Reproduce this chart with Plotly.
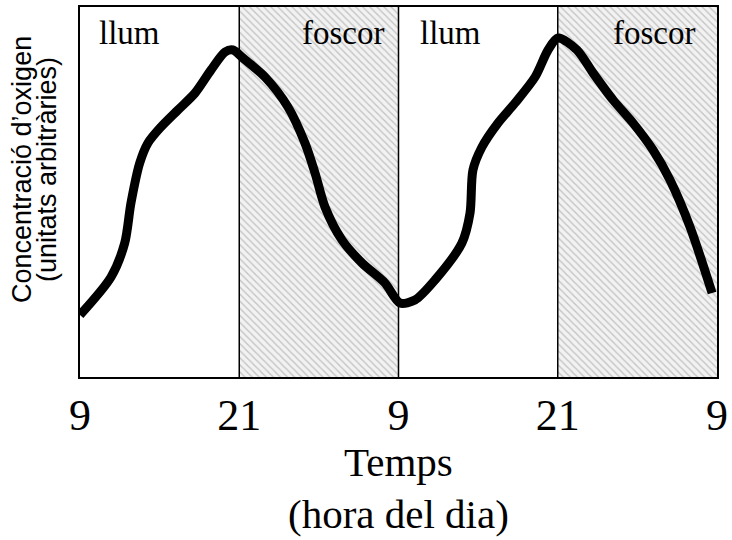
import plotly.graph_objects as go

# time in hours since 9:00 of the first day
hours = [0, 2.34, 3.37, 3.84, 4.50, 5.12, 6.10, 7.38, 8.67, 9.87, 10.93, 11.53,
         12.28, 13.94, 15.67, 16.95, 17.71, 18.46, 19.74, 21.25, 22.98, 24.11,
         25.24, 26.75, 28.78, 29.39, 29.61, 30.29, 31.50, 32.78, 34.29, 35.27, 36.02,
         37.45, 38.66, 40.17, 41.67, 43.18, 44.46, 45.97, 47.63]
oxygen = [62, 100, 134, 174, 214, 234, 250, 267, 284, 307, 325, 327,
          319, 300, 270, 234, 204, 170, 137, 114, 94, 74,
          77, 97, 134, 164, 207, 230, 254, 274, 300, 327, 339,
          327, 304, 277, 254, 227, 197, 150, 84]

tick_vals = [0, 12, 24, 36, 48]
tick_text = ["9", "21", "9", "21", "9"]
dark_periods = [(12, 24), (36, 48)]
boundaries = [12, 24, 36]
phase_labels = ["llum", "foscor", "llum", "foscor"]
label_hours = [1.28, 23.06, 25.47, 46.5]
x_title_lines = ["Temps", "(hora del dia)"]
y_title_lines = ["Concentració d’oxigen", "(unitats arbitràries)"]

Y_MAX = 370
W, H = 732, 540
ML, MR, MT, MB = 80, 15, 7, 163
PH = H - MT - MB
PW = W - ML - MR

fig = go.Figure()

for a, b in dark_periods:
    fig.add_trace(go.Scatter(
        x=[a, b, b, a, a], y=[0, 0, Y_MAX, Y_MAX, 0],
        mode="lines", line=dict(width=0), fill="toself",
        fillcolor="rgba(0,0,0,0)",
        fillpattern=dict(shape="\\", size=5, solidity=0.28,
                         fgcolor="#959595", bgcolor="#f2f2f2"),
        hoverinfo="skip", showlegend=False))

fig.add_trace(go.Scatter(
    x=hours, y=oxygen, mode="lines",
    line=dict(color="black", width=9, shape="spline", smoothing=0.8),
    showlegend=False))

for b in boundaries:
    fig.add_shape(type="line", x0=b, x1=b, y0=0, y1=Y_MAX, xref="x", yref="y",
                  line=dict(color="black", width=1.5))

for lab, hx in zip(phase_labels, label_hours):
    fig.add_annotation(x=hx, y=344, xref="x", yref="y", text=lab, showarrow=False,
                       xanchor="left" if lab == "llum" else "right", yanchor="middle",
                       font=dict(family="Liberation Serif", size=33, color="black"))

# y-axis title, two lines placed separately (pixel centres 22 and 47, y centre 170)
for txt, px in zip(y_title_lines, [22, 47]):
    fig.add_annotation(x=(px - ML) / PW, y=(H - MB - 170) / PH,
                       xref="paper", yref="paper",
                       text=txt, textangle=-90, showarrow=False,
                       xanchor="center", yanchor="middle",
                       font=dict(family="Liberation Sans", size=27, color="black"))

# x-axis title lines (pixel centres)
for txt, py in zip(x_title_lines, [462, 514]):
    fig.add_annotation(x=0.5, y=(H - MB - py) / PH, xref="paper", yref="paper",
                       text=txt, showarrow=False, xanchor="center", yanchor="middle",
                       font=dict(family="Liberation Serif", size=41, color="black"))

fig.update_layout(
    width=W, height=H,
    margin=dict(l=ML, r=MR, t=MT, b=MB),
    paper_bgcolor="white", plot_bgcolor="white",
    xaxis=dict(range=[0, 48], tickvals=tick_vals, ticktext=tick_text, automargin=False,
               showgrid=False, zeroline=False, showline=True, linecolor="black",
               linewidth=2, mirror=True, ticks="", ticklabelstandoff=-2,
               tickfont=dict(family="Liberation Serif", size=44, color="black")),
    yaxis=dict(range=[0, Y_MAX], showticklabels=False, showgrid=False, zeroline=False,
               automargin=False,
               showline=True, linecolor="black", linewidth=2, mirror=True, ticks=""),
)

fig.write_html("out.html", config={"displayModeBar": False},
               post_script="document.body.style.margin='0';document.body.style.overflow='hidden';")
